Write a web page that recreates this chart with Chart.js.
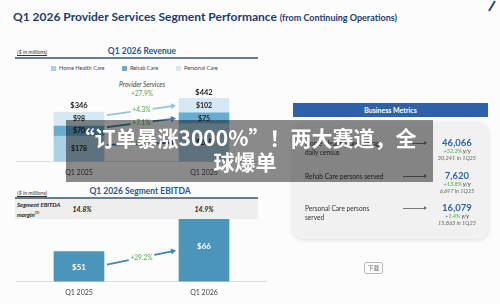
<!DOCTYPE html>
<html>
<head>
<meta charset="utf-8">
<script src="https://cdn.jsdelivr.net/npm/chart.js@4.4.1/dist/chart.umd.min.js"></script>
<style>
html, body { margin: 0; padding: 0; }
body { width: 500px; height: 304px; position: relative; overflow: hidden; background: #fcfcfc; font-family: Lato, "Open Sans", sans-serif; }
.t { position: absolute; white-space: nowrap; }
canvas { position: absolute; left: 0; top: 0; }
.navy { color: #1f3b6e; }
.sub { color: #2b568c; font-weight: bold; font-size: 8.5px; line-height: 10px; }
.note { font-style: italic; font-size: 5.5px; line-height: 7px; color: #333; text-decoration: underline; }
.green { color: #4fa84a; }
.rule { position: absolute; left: 15px; width: 243px; height: 1.5px; background: #6b7b92; }
.lg { position: absolute; top: 64px; font-size: 5.6px; line-height: 7px; color: #444; }
.lg i { display: inline-block; width: 5px; height: 5px; margin-right: 3px; vertical-align: -0.5px; }
.ml { font-size: 6.6px; line-height: 9px; color: #333; }
.mv { width: 70px; text-align: center; left: 422px; }
.big { font-size: 9.5px; line-height: 11px; font-weight: bold; color: #2d64a8; }
.yy { font-size: 5.6px; line-height: 7px; font-style: italic; color: #333; }
.prev { font-size: 5.6px; line-height: 7px; font-style: italic; color: #666; }
.arr { position: absolute; height: 0.8px; background: #777; width: 22px; left: 403px; }
.arr:after { content: ""; position: absolute; right: -2px; top: -1.6px; border-left: 3px solid #777; border-top: 2px solid transparent; border-bottom: 2px solid transparent; }
</style>
</head>
<body>

<div class="t navy" style="left:13px;top:10px;font-size:12px;line-height:14px;font-weight:bold;">Q1 2026 Provider Services Segment Performance <span style="font-size:9px;">(from Continuing Operations)</span></div>
<svg class="t" style="left:486px;top:0" width="12" height="12"><line x1="3" y1="11" x2="9" y2="1" stroke="#2b4a80" stroke-width="2"/></svg>

<!-- revenue header -->
<div class="t note" style="left:17px;top:49px;">($ in millions)</div>
<div class="t sub" style="left:92px;top:46px;width:100px;text-align:center;">Q1 2026 Revenue</div>
<div class="rule" style="top:57px;"></div>
<div id="legend"></div>
<div class="t" style="left:92px;top:80px;width:100px;text-align:center;font-size:6.6px;line-height:8px;font-style:italic;color:#444;">Provider Services</div>
<div class="t green" style="left:92px;top:89px;width:100px;text-align:center;font-size:6.6px;line-height:8px;">+27.9%</div>

<!-- EBITDA header -->
<div class="t note" style="left:17px;top:190px;">($ in millions)</div>
<div class="t sub" style="left:80px;top:186px;width:120px;text-align:center;">Q1 2026 Segment EBITDA</div>
<div class="rule" style="top:197px;"></div>
<div class="t" style="left:15px;top:199px;width:243px;height:20px;background:#eeeeee;"></div>
<div class="t" style="left:17px;top:201px;font-size:6px;line-height:8px;font-weight:bold;font-style:italic;color:#222;">Segment EBITDA<br>margin<sup style="font-size:4px;">(1)</sup></div>
<div class="t" style="left:62px;top:205px;width:40px;text-align:center;font-size:7px;line-height:9px;font-weight:bold;font-style:italic;color:#222;">14.8%</div>
<div class="t" style="left:184px;top:205px;width:40px;text-align:center;font-size:7px;line-height:9px;font-weight:bold;font-style:italic;color:#222;">14.9%</div>

<canvas id="rev" width="500" height="304"></canvas>
<canvas id="ebitda" width="500" height="304"></canvas>

<!-- business metrics -->
<div class="t" style="left:293px;top:103px;width:195px;height:14px;background:#2d62a8;color:#fff;font-size:7px;line-height:14px;font-weight:bold;text-align:center;">Business Metrics</div>
<div class="t" style="left:292px;top:122px;width:197px;height:117px;background:#f1f1f1;border-radius:12px;box-shadow:0 1px 4px rgba(0,0,0,0.12);"></div>
<div id="metrics"></div>
<div class="t" style="left:364px;top:262px;width:17px;height:10px;border:0.8px solid #bbb;border-radius:2px;font-size:5.5px;line-height:10px;text-align:center;color:#555;font-family:'Noto Sans CJK SC';">下载</div>

<!-- overlay title -->
<div class="t" style="left:66px;top:120px;width:367px;height:62px;background:rgba(0,0,0,0.45);"></div>
<div class="t" style="left:66px;top:126px;width:358px;text-align:center;white-space:normal;color:#fff;font-weight:bold;font-size:21px;line-height:23.5px;font-family:'Noto Sans CJK SC';">“订单暴涨3000%”！两大赛道，全<br>球爆单</div>

<script>
const periods = ['Q1 2025', 'Q1 2026'];
const segments = ['Home Health Care', 'Rehab Care', 'Personal Care'];
const homeHealth = [178, 265];
const rehab = [70, 75];
const personal = [98, 102];
const revenueTotals = [346, 442];
const revenueGrowth = ['+48.9%', '+7.1%', '+4.3%'];
const ebitda = [51, 66];
const ebitdaGrowth = ['+29.2%'];

const metricNames = [['Home Health Care average', 'daily census'], ['Rehab Care persons served'], ['Personal Care persons', 'served']];
const metricValues = ['46,066', '7,620', '16,079'];
const metricGrowth = ['+52.3%', '+13.8%', '+1.4%'];
const metricPrior = ['30,241 in 1Q25', '6,697 in 1Q25', '15,863 in 1Q25'];

const segColors = ['#a9d0e3', '#68add0', '#d6e9f3'];
const arrowColors = ['#3d82a6', '#3d82a6', '#93c4dc'];

// legend from segments
const lgPos = [51, 122, 176];
document.getElementById('legend').innerHTML = segments.map((s, i) =>
  `<div class="lg" style="left:${lgPos[i]}px"><i style="background:${segColors[i]}"></i>${s}</div>`).join('');

// metrics rows
const rowY = [139, 172, 204];
let html = '';
metricNames.forEach((lines, i) => {
  const y = rowY[i];
  html += `<div class="t ml" style="left:305px;top:${y}px">${lines.join('<br>')}</div>`;
  html += `<div class="arr" style="top:${y + 4}px"></div>`;
  html += `<div class="t mv big" style="top:${y - 2}px">${metricValues[i]}</div>`;
  html += `<div class="t mv yy" style="top:${y + 8}px"><span class="green">${metricGrowth[i]}</span> y/y</div>`;
  html += `<div class="t mv prev" style="top:${y + 15}px">${metricPrior[i]}</div>`;
});
document.getElementById('metrics').innerHTML = html;

function drawArrow(ctx, x1, y1, x2, y2, color, label) {
  const mx = (x1 + x2) / 2, my = (y1 + y2) / 2;
  ctx.font = '6.6px Lato';
  const w = ctx.measureText(label).width / 2 + 2;
  const len = Math.hypot(x2 - x1, y2 - y1);
  const ux = (x2 - x1) / len, uy = (y2 - y1) / len;
  ctx.strokeStyle = color;
  ctx.lineWidth = 1.8;
  ctx.beginPath();
  ctx.moveTo(x1, y1); ctx.lineTo(mx - ux * w, my - uy * w);
  ctx.moveTo(mx + ux * w, my + uy * w); ctx.lineTo(x2 - ux * 4, y2 - uy * 4);
  ctx.stroke();
  ctx.fillStyle = color;
  ctx.beginPath();
  ctx.moveTo(x2, y2);
  ctx.lineTo(x2 - ux * 5 - uy * 3, y2 - uy * 5 + ux * 3);
  ctx.lineTo(x2 - ux * 5 + uy * 3, y2 - uy * 5 - ux * 3);
  ctx.closePath(); ctx.fill();
  ctx.fillStyle = '#4fa84a';
  ctx.textAlign = 'center'; ctx.textBaseline = 'middle';
  ctx.fillText(label, mx, my);
}

const revLabels = {
  id: 'revLabels',
  afterDatasetsDraw(chart) {
    const ctx = chart.ctx;
    ctx.save();
    chart.data.datasets.forEach((ds, d) => {
      const els = chart.getDatasetMeta(d).data;
      const mids = els.map(el => (el.y + el.base) / 2);
      ctx.fillStyle = '#222';
      ctx.font = 'bold 7px Lato';
      ctx.textAlign = 'center'; ctx.textBaseline = 'middle';
      els.forEach((el, i) => ctx.fillText('$' + ds.data[i], el.x, mids[i]));
      const a = els[0], b = els[1];
      drawArrow(ctx, a.x + a.width / 2 + 3, mids[0] - 4, b.x - b.width / 2 - 3, mids[1], arrowColors[d], revenueGrowth[d]);
    });
    const top = chart.getDatasetMeta(chart.data.datasets.length - 1).data;
    ctx.fillStyle = '#222';
    ctx.font = 'bold 7.5px Lato';
    ctx.textAlign = 'center'; ctx.textBaseline = 'middle';
    top.forEach((el, i) => ctx.fillText('$' + revenueTotals[i], el.x, el.y - 6));
    ctx.restore();
  }
};

const axisX = {
  stacked: true,
  grid: { display: false, drawTicks: false },
  border: { color: '#dddddd' },
  ticks: { color: '#444', font: { family: 'Lato', size: 7 }, padding: 7 }
};

new Chart(document.getElementById('rev'), {
  type: 'bar',
  data: {
    labels: periods,
    datasets: [
      { label: segments[0], data: homeHealth, backgroundColor: segColors[0] },
      { label: segments[1], data: rehab, backgroundColor: segColors[1] },
      { label: segments[2], data: personal, backgroundColor: segColors[2] }
    ]
  },
  options: {
    responsive: false,
    animation: false,
    events: [],
    barThickness: 50,
    layout: { padding: { left: 16.5, right: 233.5, top: 90, bottom: 120 } },
    plugins: { legend: { display: false }, tooltip: { enabled: false } },
    scales: {
      x: axisX,
      y: { stacked: true, display: false, min: 0, max: 500 }
    }
  },
  plugins: [revLabels]
});

const ebitdaLabels = {
  id: 'ebitdaLabels',
  afterDatasetsDraw(chart) {
    const ctx = chart.ctx;
    const bottom = chart.chartArea.bottom;
    const els = chart.getDatasetMeta(0).data;
    const mids = els.map(el => (el.y + bottom) / 2);
    ctx.save();
    ctx.fillStyle = '#ffffff';
    ctx.font = 'bold 8px Lato';
    ctx.textAlign = 'center'; ctx.textBaseline = 'middle';
    els.forEach((el, i) => ctx.fillText('$' + ebitda[i], el.x, mids[i] - (i ? 4 : -1)));
    const a = els[0], b = els[1];
    drawArrow(ctx, a.x + a.width / 2 + 3, mids[0] - 2, b.x - b.width / 2 - 3, mids[1], '#3f88b0', ebitdaGrowth[0]);
    ctx.restore();
  }
};

new Chart(document.getElementById('ebitda'), {
  type: 'bar',
  data: {
    labels: periods,
    datasets: [{ label: 'Segment EBITDA', data: ebitda, backgroundColor: '#4b95bb' }]
  },
  options: {
    responsive: false,
    animation: false,
    events: [],
    barThickness: 50,
    layout: { padding: { left: 16.5, right: 233.5, top: 200, bottom: 0 } },
    plugins: { legend: { display: false }, tooltip: { enabled: false } },
    scales: {
      x: axisX,
      y: { display: false, min: 37, max: 75 }
    }
  },
  plugins: [ebitdaLabels]
});
</script>
</body>
</html>
